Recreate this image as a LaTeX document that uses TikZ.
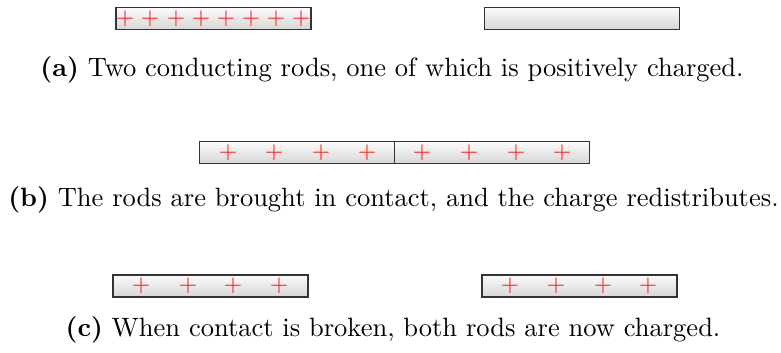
\documentclass[tikz,border=0pt]{standalone}
\usetikzlibrary{positioning}
\begin{document}
\begin{tikzpicture}[x=0.3906pt,y=-0.3906pt,
  rod/.style={draw=black!80, line width=0.55pt, top color=gray!3, bottom color=gray!32,
    minimum width=76.2pt, minimum height=8.6pt, inner sep=0pt, outer sep=0pt},
  charge/.style={text=red!90, inner sep=0pt, font=\fontsize{9}{9}\selectfont},
  caption/.style={anchor=base, inner sep=0pt, font=\fontsize{10.35}{12.4}\selectfont}]
\useasboundingbox (0,0) rectangle (781,353);

% (a) charged rod and neutral rod
\node[rod] (a1) at (213.5,18.5) {};
\node[rod] (a2) at (582,18.5) {};
\foreach \x [count=\i] in {125,150,176,201,226,251,276,301}
  \node[charge] (ap\i) at (\x,18.5) {$+$};
\node[caption] (capa) at (392,77) {\textbf{(a)} Two conducting rods, one of which is positively charged.};

% (b) rods in contact
\node[rod] (b1) at (297,152.5) {};
\node[rod] (b2) at (492,152.5) {};
\foreach \x [count=\i] in {228,274,321,367,422,469,516,562}
  \node[charge] (bp\i) at (\x,152.5) {$+$};
\node[caption] (capb) at (393.5,207) {\textbf{(b)} The rods are brought in contact, and the charge redistributes.};

% (c) rods separated again
\node[rod] (c1) at (210.5,286) {};
\node[rod] (c2) at (579.5,286) {};
\foreach \x [count=\i] in {141,188,233,279,510,556,603,648}
  \node[charge] (cp\i) at (\x,286) {$+$};
\node[caption] (capc) at (393,337) {\textbf{(c)} When contact is broken, both rods are now charged.};
\end{tikzpicture}
\end{document}
